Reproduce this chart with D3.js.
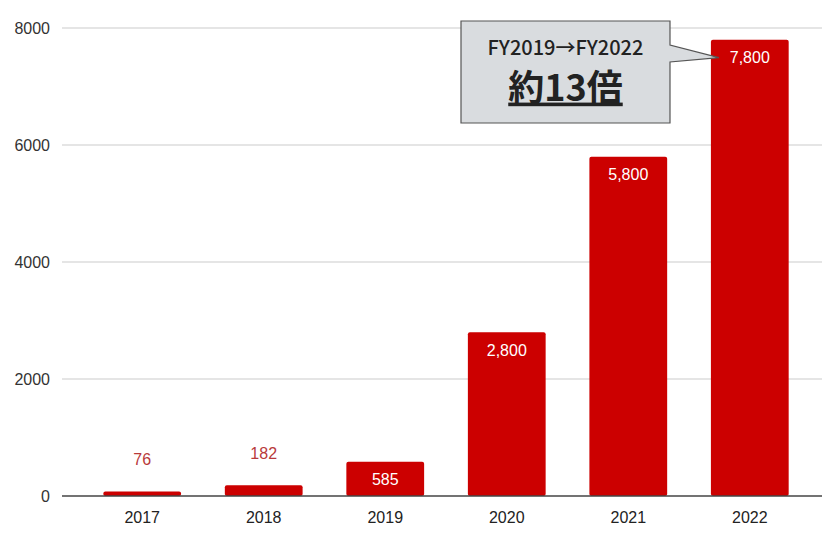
<!DOCTYPE html>
<html>
<head>
<meta charset="UTF-8">
<script src="https://d3js.org/d3.v7.min.js"></script>
<style>
  body { margin: 0; background: #fff; }
  svg { display: block; }
</style>
</head>
<body>
<div id="chart"></div>
<script>
var years = ["2017", "2018", "2019", "2020", "2021", "2022"];
var values = [76, 182, 585, 2800, 5800, 7800];
var valueLabels = ["76", "182", "585", "2,800", "5,800", "7,800"];
var yTicks = [0, 2000, 4000, 6000, 8000];
var calloutTop = "FY2019\u2192FY2022";
var calloutMain = "約13倍";

var width = 834, height = 540;
var svg = d3.select("#chart").append("svg")
    .attr("width", width).attr("height", height);

var x = d3.scaleBand().domain(years).range([62, 830])
    .paddingInner(0.36).paddingOuter(0.34);
var y = d3.scaleLinear().domain([0, 8000]).range([496, 28]);

// gridlines
svg.append("g").selectAll("line")
    .data(yTicks.filter(d => d > 0))
    .join("line")
    .attr("x1", 62).attr("x2", 822)
    .attr("y1", d => y(d)).attr("y2", d => y(d))
    .attr("stroke", "#dcdcdc").attr("stroke-width", 1.5);

// y labels
var yaxis = d3.axisLeft(y).tickValues(yTicks).tickFormat(d3.format("d"))
    .tickSize(0).tickPadding(12);
svg.append("g").attr("transform", "translate(62,0)").call(yaxis)
    .call(g => g.select(".domain").remove())
    .selectAll("text")
    .attr("font-family", "'Liberation Sans', Arial, sans-serif")
    .attr("font-size", 16).attr("fill", "#333");

// bars
var data = years.map((yr, i) => ({ year: yr, value: values[i], label: valueLabels[i] }));
svg.append("g").selectAll("rect").data(data).join("rect")
    .attr("x", d => x(d.year))
    .attr("y", d => y(d.value))
    .attr("width", x.bandwidth())
    .attr("height", d => y(0) - y(d.value))
    .attr("rx", 2)
    .attr("fill", "#cc0000");

// baseline
svg.append("line").attr("x1", 62).attr("x2", 822)
    .attr("y1", y(0)).attr("y2", y(0))
    .attr("stroke", "#444").attr("stroke-width", 1.5);

// value labels
svg.append("g").selectAll("text").data(data).join("text")
    .attr("x", d => x(d.year) + x.bandwidth() / 2)
    .attr("y", d => d.value < 500 ? y(d.value) - 32 : y(d.value) + 18)
    .attr("dy", "0.35em")
    .attr("text-anchor", "middle")
    .attr("font-family", "'Liberation Sans', Arial, sans-serif")
    .attr("font-size", 16)
    .attr("fill", d => d.value < 500 ? "#b83a3a" : "#fff")
    .text(d => d.label);

// x labels
var xaxis = d3.axisBottom(x).tickSize(0).tickPadding(16);
svg.append("g").attr("transform", "translate(0," + y(0) + ")").call(xaxis)
    .call(g => g.select(".domain").remove())
    .selectAll("text")
    .attr("font-family", "'Liberation Sans', Arial, sans-serif")
    .attr("font-size", 16).attr("fill", "#222");

// callout
var bx = 461, by = 21, bw = 209, bh = 102;
var tipX = x("2022") + 8, tipY = y(7800) + 18;
var callout = svg.append("g");
callout.append("path")
    .attr("d", "M" + bx + "," + by + "H" + (bx + bw) + "V45L" + tipX + "," + tipY +
        "L" + (bx + bw) + ",62V" + (by + bh) + "H" + bx + "Z")
    .attr("fill", "#d9dcdf").attr("stroke", "#555").attr("stroke-width", 1.2);
callout.append("text")
    .attr("x", bx + bw / 2).attr("y", 48).attr("dy", "0.35em")
    .attr("text-anchor", "middle")
    .attr("font-family", "'Noto Sans CJK JP', sans-serif")
    .attr("font-weight", 500)
    .attr("font-size", 20).attr("fill", "#222")
    .text(calloutTop);
callout.append("text")
    .attr("x", bx + bw / 2).attr("y", 88).attr("dy", "0.35em")
    .attr("text-anchor", "middle")
    .attr("font-family", "'Noto Sans CJK JP', sans-serif")
    .attr("font-weight", "bold")
    .attr("font-size", 36).attr("fill", "#222")
    .attr("text-decoration", "underline")
    .text(calloutMain);
</script>
</body>
</html>
